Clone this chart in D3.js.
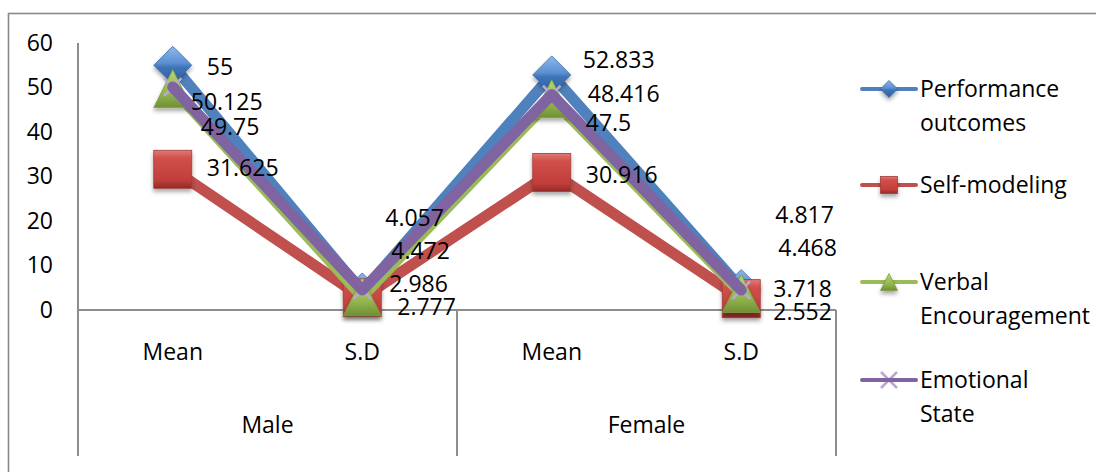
<!DOCTYPE html>
<html>
<head>
<meta charset="utf-8">
<script src="https://cdn.jsdelivr.net/npm/d3@7"></script>
<style>
  html, body { margin: 0; padding: 0; background: #fff; }
  svg { display: block; font-family: "Open Sans", "Liberation Sans", sans-serif; }
  text { fill: #000; }
</style>
</head>
<body>
<svg id="chart" width="1096" height="472"></svg>
<script>
// ---- data ----
const categories = ["Mean", "S.D", "Mean", "S.D"];
const groups = ["Male", "Female"];
const seriesNames = ["Performance outcomes", "Self-modeling", "Verbal Encouragement", "Emotional State"];
const performance = [55, 4.057, 52.833, 4.817];
const selfModeling = [31.625, 2.777, 30.916, 2.552];
const verbal = [49.75, 2.986, 47.5, 3.718];
const emotional = [50.125, 4.472, 48.416, 4.468];
const labelText = {
  performance: ["55", "4.057", "52.833", "4.817"],
  selfModeling: ["31.625", "2.777", "30.916", "2.552"],
  verbal: ["49.75", "2.986", "47.5", "3.718"],
  emotional: ["50.125", "4.472", "48.416", "4.468"]
};
const yTicks = [0, 10, 20, 30, 40, 50, 60];

// ---- layout ----
const plot = { left: 78, right: 836, top: 43, bottom: 310, axisBottom: 456 };
const fontSize = 23;
// label nudges (px) from each point, per series, per category
const labelNudge = {
  performance: [[34, 2], [23, -74], [31, -15], [34, -74]],
  selfModeling: [[34, -1], [35, 9], [34, 3], [32, 13]],
  verbal: [[28, 38], [27, -13], [34, 24], [32, -5]],
  emotional: [[18, 15], [29, -39], [36, -1], [37, -42]]
};

const series = [
  { key: "performance", name: seriesNames[0], values: performance, color: "#4F81BD", marker: "diamond" },
  { key: "selfModeling", name: seriesNames[1], values: selfModeling, color: "#C0504D", marker: "square" },
  { key: "verbal", name: seriesNames[2], values: verbal, color: "#9BBB59", marker: "triangle" },
  { key: "emotional", name: seriesNames[3], values: emotional, color: "#8064A2", marker: "cross" }
];

const svg = d3.select("#chart");
const defs = svg.append("defs");

// marker shading
function vGrad(id, stops) {
  const g = defs.append("linearGradient").attr("id", id)
    .attr("x1", 0).attr("y1", 0).attr("x2", 0).attr("y2", 1);
  stops.forEach(([o, c]) => g.append("stop").attr("offset", o).attr("stop-color", c));
}
vGrad("gDiamond", [[0, "#8fb8ea"], [0.45, "#5a8fd2"], [0.55, "#3f74b8"], [1, "#2f5f9e"]]);
vGrad("gSquare", [[0, "#e07a77"], [0.2, "#d2504c"], [0.8, "#c03d3a"], [1, "#8e2a28"]]);
vGrad("gTriangle", [[0, "#b6d47a"], [0.6, "#94b84f"], [1, "#6f8f35"]]);
const shadow = defs.append("filter").attr("id", "shadow")
  .attr("x", "-30%").attr("y", "-30%").attr("width", "160%").attr("height", "170%");
shadow.append("feDropShadow").attr("dx", 0).attr("dy", 3).attr("stdDeviation", 2)
  .attr("flood-color", "#000").attr("flood-opacity", 0.35);

// outer frame
svg.append("rect")
  .attr("x", 8.5).attr("y", 13.5).attr("width", 1200).attr("height", 600)
  .attr("fill", "none").attr("stroke", "#898989").attr("stroke-width", 1.6);

// ---- scales ----
const x = d3.scaleBand().domain(d3.range(categories.length))
  .range([plot.left, plot.right]).paddingInner(0).paddingOuter(0);
const cx = i => x(i) + x.bandwidth() / 2;
const y = d3.scaleLinear().domain([0, 60]).range([plot.bottom, plot.top]);

// ---- y axis ----
const yAxis = d3.axisLeft(y).tickValues(yTicks).tickSize(0).tickPadding(25);
const gy = svg.append("g").attr("transform", `translate(${plot.left},0)`).call(yAxis);
gy.select(".domain").remove();
gy.selectAll("text").attr("font-size", fontSize).attr("font-family", "Open Sans").attr("fill", "#000");
svg.append("line")
  .attr("x1", plot.left).attr("x2", plot.left)
  .attr("y1", plot.top).attr("y2", plot.axisBottom)
  .attr("stroke", "#8c8c8c").attr("stroke-width", 2);

// ---- category axis ----
svg.append("line")
  .attr("x1", plot.left).attr("x2", plot.right)
  .attr("y1", y(0)).attr("y2", y(0))
  .attr("stroke", "#8c8c8c").attr("stroke-width", 2);
// group separators
[2, 4].forEach(i => {
  const sx = i < categories.length ? x(i) : plot.right;
  svg.append("line")
    .attr("x1", sx).attr("x2", sx)
    .attr("y1", y(0)).attr("y2", plot.axisBottom)
    .attr("stroke", "#8c8c8c").attr("stroke-width", 2);
});
svg.append("g").selectAll("text").data(categories).join("text")
  .attr("x", (d, i) => cx(i)).attr("y", 352)
  .attr("dy", "0.35em").attr("text-anchor", "middle")
  .attr("font-size", fontSize).text(d => d);
svg.append("g").selectAll("text").data(groups).join("text")
  .attr("x", (d, i) => (x(i * 2) + (i * 2 + 2 < categories.length ? x(i * 2 + 2) : plot.right)) / 2)
  .attr("y", 425).attr("dy", "0.35em").attr("text-anchor", "middle")
  .attr("font-size", fontSize).text(d => d);

// ---- marker shapes ----
function drawMarker(g, type, px, py, s) {
  const h = s / 2;
  if (type === "diamond") {
    g.append("path")
      .attr("d", `M${px},${py - h}L${px + h},${py}L${px},${py + h}L${px - h},${py}Z`)
      .attr("fill", "url(#gDiamond)").attr("stroke", "#3a6aa8").attr("stroke-width", 0.8)
      .attr("filter", "url(#shadow)");
  } else if (type === "square") {
    g.append("rect")
      .attr("x", px - h).attr("y", py - h).attr("width", s).attr("height", s)
      .attr("fill", "url(#gSquare)").attr("stroke", "#a33c39").attr("stroke-width", 0.8)
      .attr("filter", "url(#shadow)");
  } else if (type === "triangle") {
    g.append("path")
      .attr("d", `M${px},${py - h}L${px + h},${py + h}L${px - h},${py + h}Z`)
      .attr("fill", "url(#gTriangle)").attr("stroke", "#7f9c45").attr("stroke-width", 0.8)
      .attr("filter", "url(#shadow)");
  } else if (type === "cross") {
    const k = h * 0.8;
    g.append("path")
      .attr("d", `M${px - k},${py - k}L${px + k},${py + k}M${px - k},${py + k}L${px + k},${py - k}`)
      .attr("stroke", "#b9a9d2").attr("stroke-width", 2.5).attr("fill", "none");
  }
}

// ---- series lines + markers (the thin crosses sit beneath their own line) ----
const line = d3.line().x((d, i) => cx(i)).y(d => y(d));
series.forEach(s => {
  const g = svg.append("g").attr("class", "series");
  const drawPoints = () => s.values.forEach((v, i) =>
    drawMarker(g, s.marker, cx(i), y(v), s.marker === "cross" ? 22 : 38));
  if (s.marker === "cross") drawPoints();
  g.append("path")
    .attr("d", line(s.values))
    .attr("fill", "none").attr("stroke", s.color)
    .attr("stroke-width", 11).attr("stroke-linejoin", "round")
    .attr("stroke-linecap", s.marker === "cross" ? "round" : "butt");
  if (s.marker !== "cross") drawPoints();
});

// ---- data labels ----
series.forEach(s => {
  svg.append("g").selectAll("text").data(s.values).join("text")
    .attr("x", (v, i) => cx(i) + labelNudge[s.key][i][0])
    .attr("y", (v, i) => y(v) + labelNudge[s.key][i][1])
    .attr("dy", "0.35em").attr("font-size", fontSize)
    .text((v, i) => labelText[s.key][i]);
});

// ---- legend ----
const legendRows = [
  { s: series[0], lines: ["Performance", "outcomes"], y: 89 },
  { s: series[1], lines: ["Self-modeling"], y: 185 },
  { s: series[2], lines: ["Verbal", "Encouragement"], y: 282 },
  { s: series[3], lines: ["Emotional", "State"], y: 380 }
];
const lg = svg.append("g").attr("class", "legend");
legendRows.forEach(r => {
  if (r.s.marker === "cross") drawMarker(lg, r.s.marker, 889, r.y, 20);
  lg.append("line")
    .attr("x1", 862).attr("x2", 916).attr("y1", r.y).attr("y2", r.y)
    .attr("stroke", r.s.color).attr("stroke-width", 4).attr("stroke-linecap", "round");
  if (r.s.marker !== "cross") drawMarker(lg, r.s.marker, 889, r.y, 17);
  r.lines.forEach((t, j) => {
    lg.append("text").attr("x", 920).attr("y", r.y + j * 34)
      .attr("dy", "0.35em").attr("font-size", fontSize).text(t);
  });
});
</script>
</body>
</html>
